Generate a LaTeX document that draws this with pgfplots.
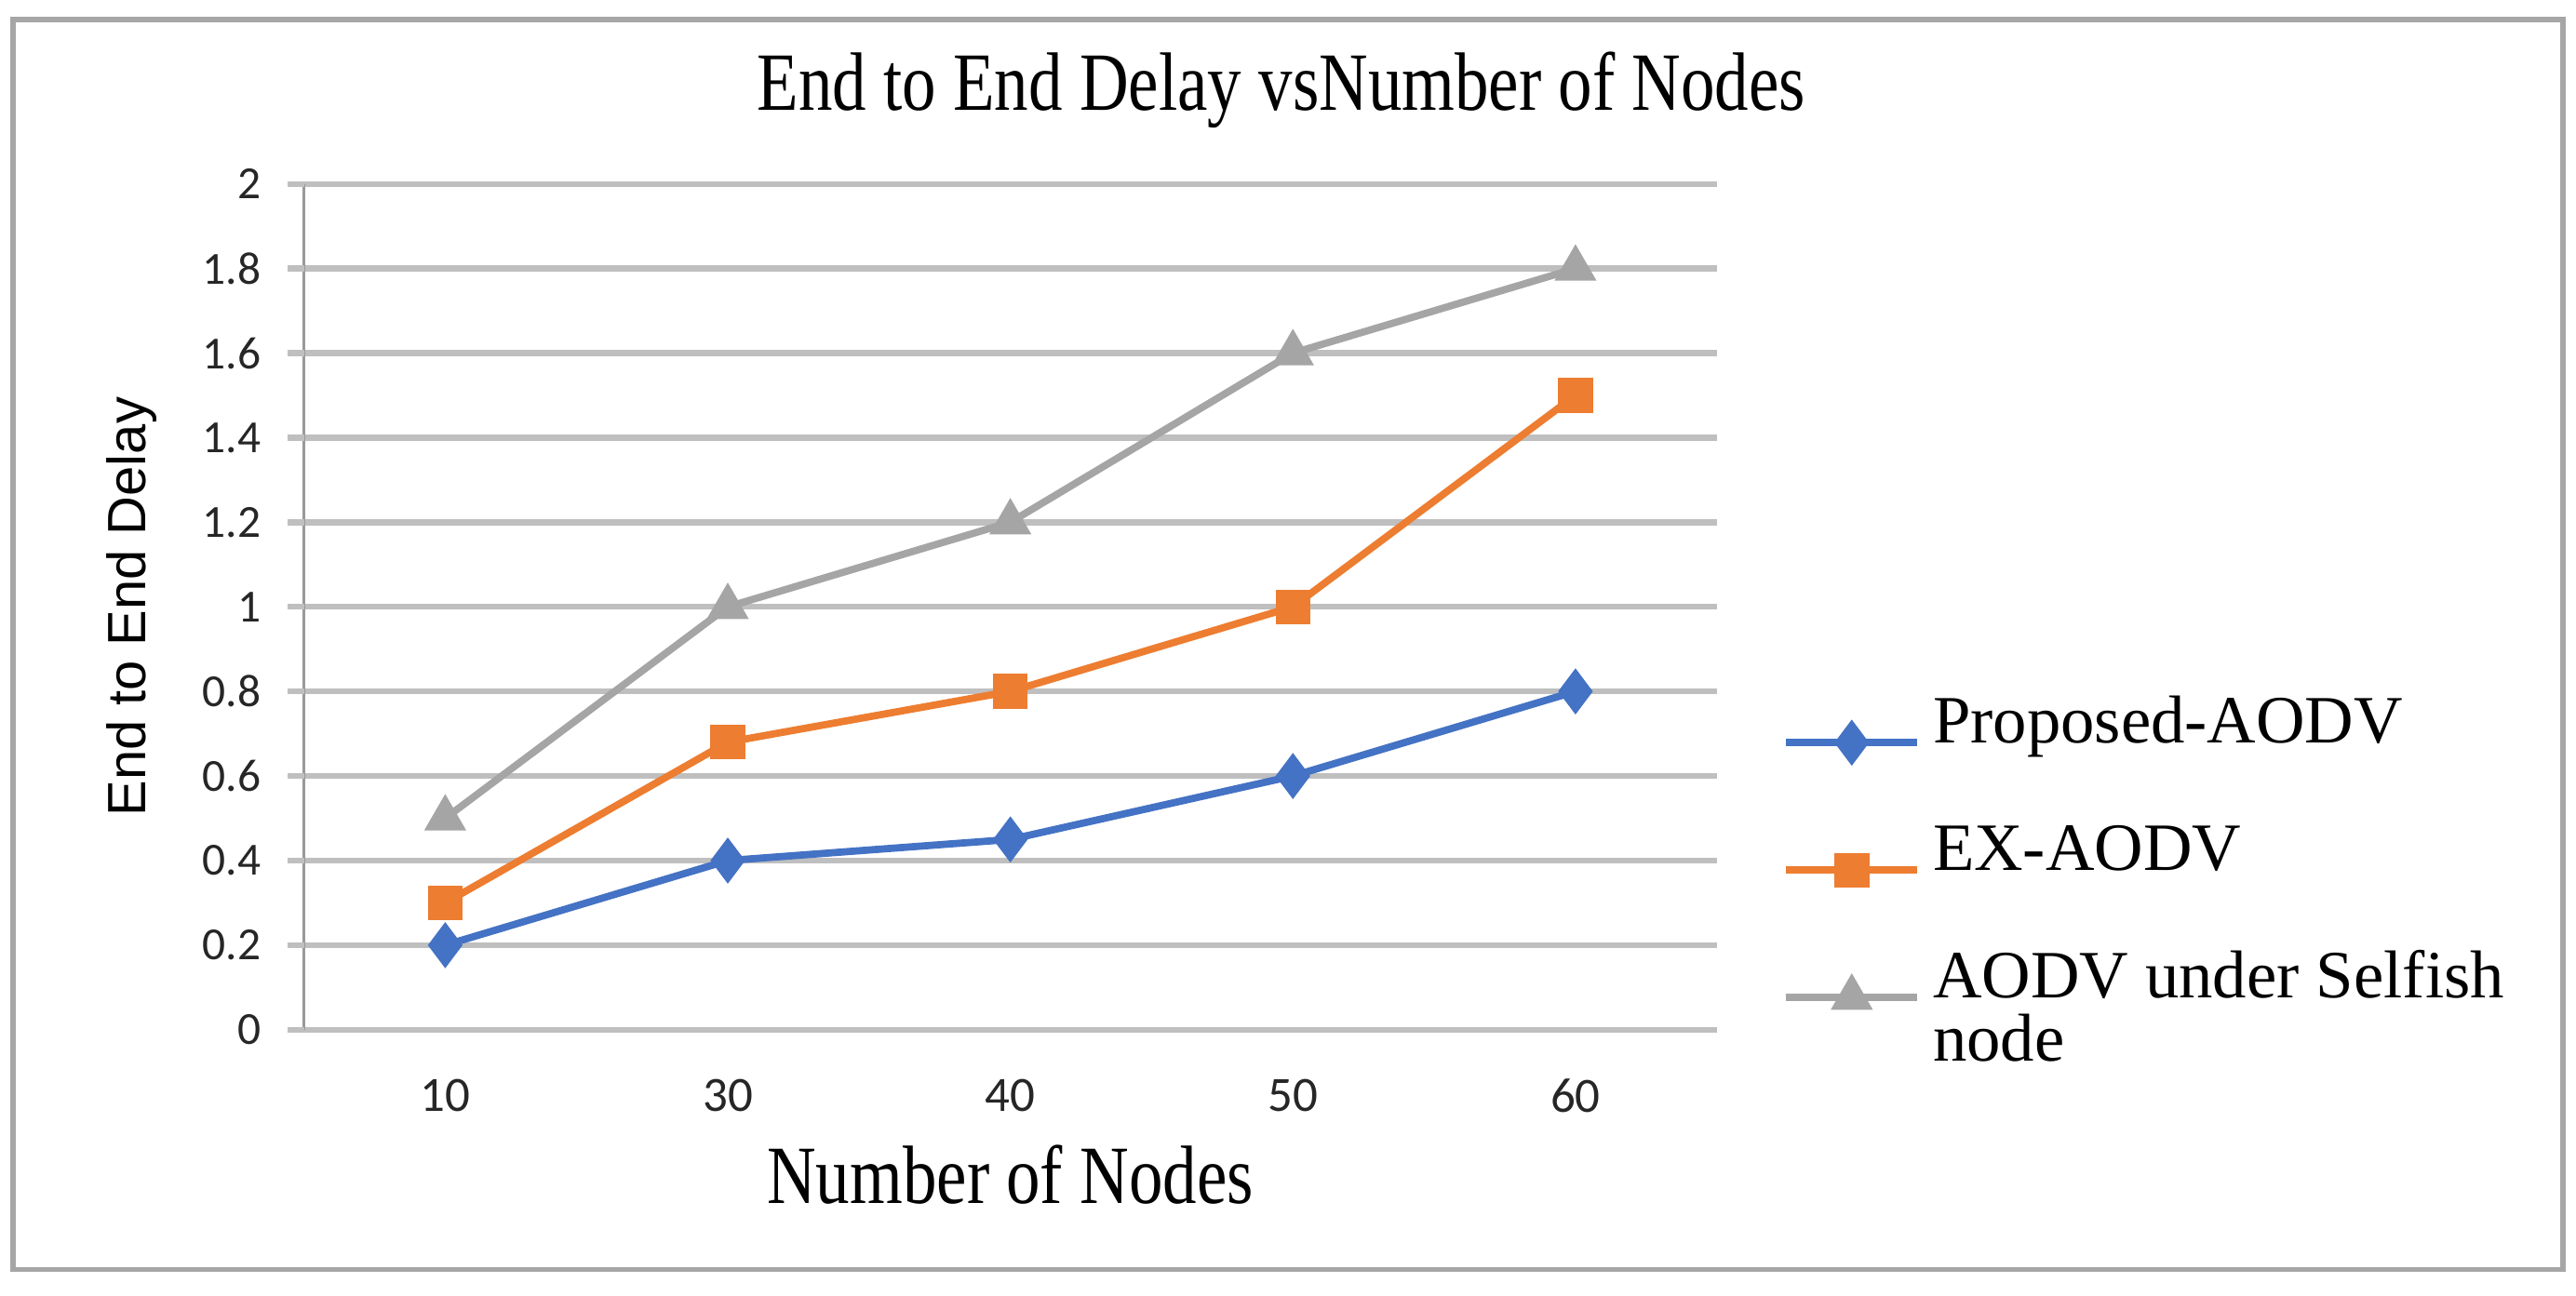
\documentclass[border=0pt]{standalone}
\usepackage{fontspec}
\setmainfont{Liberation Serif}
\newfontfamily\condserif[FakeStretch=0.82]{Liberation Serif}
\newfontfamily\tickfont{Carlito}
\newfontfamily\labelsans{Liberation Sans}
\usepackage{pgfplots}
\pgfplotsset{compat=1.18}

\definecolor{xlblue}{HTML}{4472C4}
\definecolor{xlorange}{HTML}{ED7D31}
\definecolor{xlgray}{HTML}{A5A5A5}
\definecolor{gridgray}{HTML}{BFBFBF}

\begin{document}
\begin{tikzpicture}
\path[use as bounding box] (0,0) rectangle (392pt,197.25pt);
\draw[gray!70, line width=0.8pt] (2pt,4pt) rectangle (390pt,194.25pt);
\node[font=\condserif\fontsize{12.6}{14}\selectfont] at (195pt,183.5pt) {End to End Delay vsNumber of Nodes};
\begin{axis}[
    at={(46.25pt,40.5pt)}, anchor=south west,
    scale only axis,
    width=215pt, height=128.75pt,
    xmin=-0.5, xmax=4.5,
    ymin=0, ymax=2,
    xtick={0,1,2,3,4},
    xticklabels={10,30,40,50,60},
    ytick={0,0.2,...,2},
    yticklabel style={/pgf/number format/fixed},
    /pgf/number format/assume math mode=true,
    ticklabel style={font=\tickfont\fontsize{7}{8}\selectfont, text=black!85},
    axis x line*=bottom,
    axis y line*=left,
    x axis line style={draw=none},
    y axis line style={draw=gray!80, line width=0.5pt},
    ymajorgrids,
    grid style={gridgray, line width=0.9pt},
    major tick length=0pt,
    extra y ticks={0,0.2,...,2}, extra y tick labels={},
    extra y tick style={major tick length=2.5pt, tick style={gridgray, line width=0.9pt}, grid=none, tick align=outside},
    xtick style={draw=none},
    xticklabel style={yshift=-4pt, font=\tickfont\fontsize{7.5}{8}\selectfont},
    yticklabel style={xshift=-3pt},
    xlabel={\condserif Number of Nodes},
    xlabel style={font=\fontsize{12.6}{14}\selectfont, at={(axis description cs:0.5,-0.171)}, anchor=center},
    ylabel={End to End Delay},
    ylabel style={font=\labelsans\fontsize{8.2}{10}\selectfont, at={(axis description cs:-0.122,0.5)}, anchor=center},
    clip=false,
    legend style={
        at={(1.0465,0.393)}, anchor=north west,
        draw=none, fill=none, inner sep=0pt, outer sep=0pt,
        row sep=0pt, column sep=1.8pt,
        font=\fontsize{10.3}{11}\selectfont,
        nodes={inner sep=0pt, text height=6.9pt, text depth=2.8pt, anchor=base west},
    },
    legend cell align=left,
    legend image code/.code={
        \draw[mark repeat=2, mark phase=2, #1] plot coordinates {(0pt,0pt) (10pt,0pt) (20pt,0pt)};
    },
]
\addplot[xlblue, line width=1.1pt, mark=diamond*, mark size=2.6pt, mark options={solid}]
    coordinates {(0,0.2) (1,0.4) (2,0.45) (3,0.6) (4,0.8)};
\addlegendentry{Proposed-AODV}
\addlegendimage{empty legend}\addlegendentry{}
\addplot[xlorange, line width=1.1pt, mark=square*, mark size=2.1pt, mark options={solid}]
    coordinates {(0,0.3) (1,0.68) (2,0.8) (3,1.0) (4,1.5)};
\addlegendentry{EX-AODV}
\addlegendimage{empty legend}\addlegendentry{}
\addplot[xlgray, line width=1.1pt, mark=triangle*, mark size=2.6pt, mark options={solid}]
    coordinates {(0,0.5) (1,1.0) (2,1.2) (3,1.6) (4,1.8)};
\addlegendentry{AODV under Selfish}
\addlegendimage{empty legend}\addlegendentry{node}
\end{axis}
\end{tikzpicture}
\end{document}
